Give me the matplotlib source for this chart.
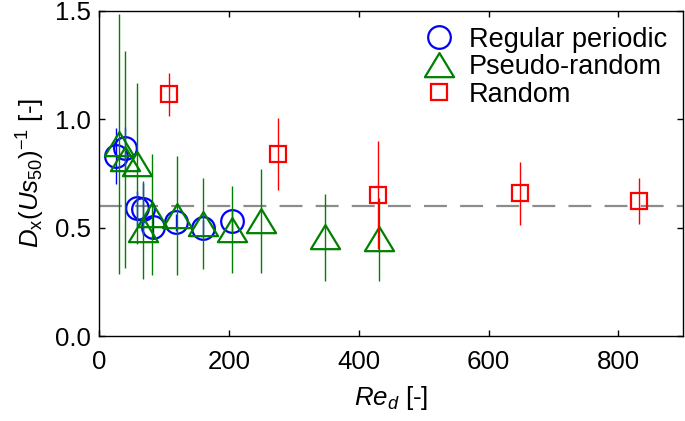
import matplotlib
matplotlib.use("Agg")
import matplotlib.pyplot as plt
from matplotlib.path import Path

plt.rcParams['font.family'] = ['Liberation Sans', 'DejaVu Sans']
plt.rcParams['mathtext.fontset'] = 'custom'
plt.rcParams['mathtext.rm'] = 'Liberation Sans'
plt.rcParams['mathtext.it'] = 'Liberation Sans:italic'
plt.rcParams['lines.scale_dashes'] = False

# Regular periodic
reg_x = [25, 40, 58, 68, 83, 118, 160, 205]
reg_y = [0.83, 0.865, 0.589, 0.585, 0.504, 0.524, 0.497, 0.532]
reg_e = [0.13, 0.10, 0.08, 0.12, 0.05, 0.04, 0.04, 0.05]

# Pseudo-random
pse_x = [31, 40, 58, 68, 81, 120, 160, 204, 249, 348, 431]
pse_y = [0.885, 0.815, 0.795, 0.49, 0.56, 0.555, 0.517, 0.49, 0.53, 0.455, 0.445]
pse_e = [0.60, 0.50, 0.37, 0.225, 0.28, 0.275, 0.21, 0.20, 0.24, 0.20, 0.19]

# Random
ran_x = [107, 276, 429, 648, 832]
ran_y = [1.114, 0.840, 0.651, 0.658, 0.621]
ran_e = [0.10, 0.165, 0.25, 0.145, 0.106]

ref_level = 0.6
xticks = [0, 200, 400, 600, 800]
yticks = [0.0, 0.5, 1.0, 1.5]

tri = Path([(-1, -0.8), (1, -0.8), (0, 0.85), (-1, -0.8)],
           [Path.MOVETO, Path.LINETO, Path.LINETO, Path.CLOSEPOLY])

fig = plt.figure(figsize=(6.85, 4.21), dpi=100)
ax = fig.add_axes([0.145, 0.2019, 0.8525, 0.7727])

ax.axhline(ref_level, color='#8c8c8c', lw=1.6, dashes=(16.5, 9.5), zorder=1)

c1 = ax.errorbar(reg_x, reg_y, yerr=reg_e, fmt='o', ms=16.3, mfc='none', mec='#0000ff',
                 mew=1.6, ecolor='#0000ff', elinewidth=1.0, capsize=0, zorder=2)
ax.errorbar(pse_x, pse_y, yerr=pse_e, fmt='none', ecolor='#008000',
            elinewidth=1.0, capsize=0, zorder=3)
l2, = ax.plot(pse_x, pse_y, linestyle='none', marker=tri, ms=21, mfc='none',
              mec='#008000', mew=1.6, zorder=3)
c3 = ax.errorbar(ran_x, ran_y, yerr=ran_e, fmt='s', ms=12.2, mfc='none', mec='#ff0000',
                 mew=1.6, ecolor='#ff0000', elinewidth=1.0, capsize=0, zorder=4)

ax.set_xlim(0, 900)
ax.set_ylim(0, 1.5)
ax.set_xticks(xticks)
ax.set_yticks(yticks)
ax.set_yticklabels([f"{v:.1f}" for v in yticks])
ax.tick_params(direction='in', top=True, right=True, length=4, width=1,
               labelsize=18.6)
ax.tick_params(axis='x', pad=10)
ax.tick_params(axis='y', pad=6)
for s in ax.spines.values():
    s.set_linewidth(1.0)

ax.set_xlabel(r'$Re_d$ [-]', fontsize=18.6, labelpad=7)
ax.set_ylabel(r'$D_{\mathrm{x}}(Us_{50})^{-1}$ [-]', fontsize=18.6, labelpad=6)

ax.legend([c1[0], l2, c3[0]], ['Regular periodic', 'Pseudo-random', 'Random'],
          loc='upper right', frameon=False,
          fontsize=19.5, handlelength=1.2, handletextpad=0.5, labelspacing=0.05,
          borderaxespad=0.2, bbox_to_anchor=(1.0, 1.0))

fig.savefig('out.png', dpi=100)
